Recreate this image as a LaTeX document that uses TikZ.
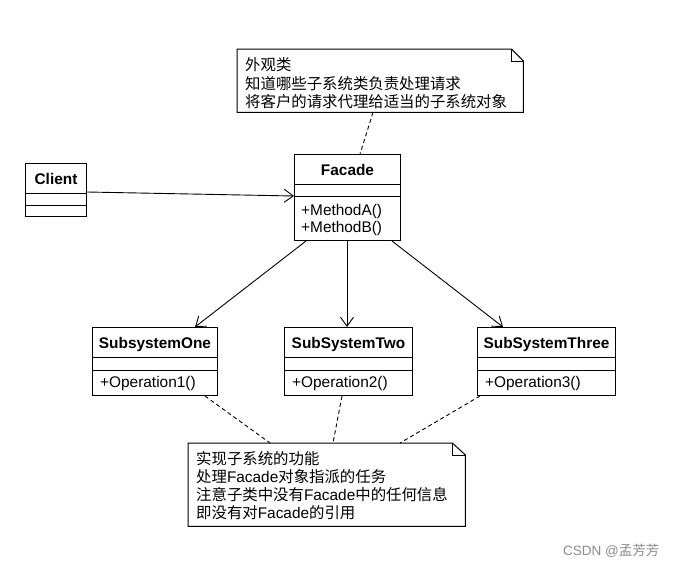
\documentclass[tikz,border=0pt]{standalone}
\usepackage{fontspec}
\setmainfont{Liberation Sans}
\newfontfamily\cjk{Noto Sans CJK SC}
\usetikzlibrary{calc,arrows.meta}
\begin{document}
\begin{tikzpicture}[x=1pt,y=-1pt,
  box/.style={draw, line width=1pt, inner sep=0pt, anchor=north west},
  divider/.style={line width=1pt},
  ttl/.style={font=\bfseries\fontsize{15.4}{18}\selectfont, inner sep=0pt, anchor=base},
  mth/.style={font=\fontsize{15.4}{18}\selectfont, inner sep=0pt, anchor=base west},
  assoc/.style={line width=0.9pt, -{Straight Barb[length=9pt,width=13pt,line width=0.9pt]}},
  link/.style={line width=0.9pt, dash pattern=on 4pt off 3pt},
  notebox/.style={inner sep=0pt, anchor=north west},
  noteline/.style={font=\fontsize{15.4}{18}\selectfont, inner sep=0pt, anchor=base west},
  wmtext/.style={font=\fontsize{13.5}{16}\selectfont, text=black!45, inner sep=0pt, anchor=base west}
]
\useasboundingbox[fill=white] (0,0) rectangle (678,570);

% ---------- notes ----------
\node[notebox, minimum width=286pt, minimum height=63pt] (topnote) at (237,49) {};
\draw[line width=1pt] (topnote.north west) -- ($(topnote.north east)+(-12,0)$) -- ($(topnote.north east)+(0,12)$) -- (topnote.south east) -- (topnote.south west) -- cycle;
\draw[line width=1pt] ($(topnote.north east)+(-12,0)$) -- ($(topnote.north east)+(-12,12)$) -- ($(topnote.north east)+(0,12)$);
\node[noteline] (tn1) at ($(topnote.north west)+(8,21.8)$) {\cjk 外观类};
\node[noteline] (tn2) at ($(topnote.north west)+(8,40.2)$) {\cjk 知道哪些子系统类负责处理请求};
\node[noteline] (tn3) at ($(topnote.north west)+(8,58.6)$) {\cjk 将客户的请求代理给适当的子系统对象};

\node[notebox, minimum width=277pt, minimum height=83pt] (botnote) at (188,443) {};
\draw[line width=1pt] (botnote.north west) -- ($(botnote.north east)+(-13,0)$) -- ($(botnote.north east)+(0,12)$) -- (botnote.south east) -- (botnote.south west) -- cycle;
\draw[line width=1pt] ($(botnote.north east)+(-13,0)$) -- ($(botnote.north east)+(-13,12)$) -- ($(botnote.north east)+(0,12)$);
\node[noteline] (bn1) at ($(botnote.north west)+(8,21)$) {\cjk 实现子系统的功能};
\node[noteline] (bn2) at ($(botnote.north west)+(8,39)$) {{\cjk 处理}Facade{\cjk 对象指派的任务}};
\node[noteline] (bn3) at ($(botnote.north west)+(8,57)$) {{\cjk 注意子类中没有}Facade{\cjk 中的任何信息}};
\node[noteline] (bn4) at ($(botnote.north west)+(8,75)$) {{\cjk 即没有对}Facade{\cjk 的引用}};

% ---------- classes ----------
\node[box, minimum width=61pt, minimum height=53pt] (client) at (25,163) {};
\draw[divider] ($(client.north west)+(0,30)$) -- ($(client.north east)+(0,30)$);
\draw[divider] ($(client.north west)+(0,42)$) -- ($(client.north east)+(0,42)$);
\node[ttl] (clientT) at ($(client.north)+(0,21.8)$) {Client};

\node[box, minimum width=106pt, minimum height=86pt] (facade) at (294,154) {};
\draw[divider] ($(facade.north west)+(0,30)$) -- ($(facade.north east)+(0,30)$);
\draw[divider] ($(facade.north west)+(0,42)$) -- ($(facade.north east)+(0,42)$);
\node[ttl] (facadeT) at ($(facade.north)+(0,21.5)$) {Facade};
\node[mth] (facadeM1) at ($(facade.north west)+(7,61.5)$) {+MethodA()};
\node[mth] (facadeM2) at ($(facade.north west)+(7,78.8)$) {+MethodB()};

\node[box, minimum width=125pt, minimum height=68pt] (sub1) at (92,327) {};
\draw[divider] ($(sub1.north west)+(0,30)$) -- ($(sub1.north east)+(0,30)$);
\draw[divider] ($(sub1.north west)+(0,43)$) -- ($(sub1.north east)+(0,43)$);
\node[ttl] (sub1T) at ($(sub1.north)+(0,21)$) {SubsystemOne};
\node[mth] (sub1M) at ($(sub1.north west)+(8,60.2)$) {+Operation1()};

\node[box, minimum width=128pt, minimum height=68pt] (sub2) at (284,327) {};
\draw[divider] ($(sub2.north west)+(0,30)$) -- ($(sub2.north east)+(0,30)$);
\draw[divider] ($(sub2.north west)+(0,43)$) -- ($(sub2.north east)+(0,43)$);
\node[ttl] (sub2T) at ($(sub2.north)+(0,21)$) {SubSystemTwo};
\node[mth] (sub2M) at ($(sub2.north west)+(8,60.2)$) {+Operation2()};

\node[box, minimum width=138pt, minimum height=68pt] (sub3) at (477,327) {};
\draw[divider] ($(sub3.north west)+(0,30)$) -- ($(sub3.north east)+(0,30)$);
\draw[divider] ($(sub3.north west)+(0,43)$) -- ($(sub3.north east)+(0,43)$);
\node[ttl] (sub3T) at ($(sub3.north)+(0,21)$) {SubSystemThree};
\node[mth] (sub3M) at ($(sub3.north west)+(8,60.2)$) {+Operation3()};

% ---------- connectors ----------
\draw[assoc] ($(client.north east)+(0,29)$) -- ($(facade.north west)+(0,42)$);
\draw[assoc] ($(facade.south west)+(12,0)$) -- ($(sub1.north west)+(103,0)$);
\draw[assoc] ($(facade.south west)+(53,0)$) -- ($(sub2.north west)+(63,0)$);
\draw[assoc] ($(facade.south west)+(98,0)$) -- ($(sub3.north west)+(26,0)$);

\draw[link] ($(topnote.south west)+(136,0)$) -- ($(facade.north west)+(66,0)$);
\draw[link] ($(sub1.south west)+(113,0)$) -- ($(botnote.north west)+(82,0)$);
\draw[link] ($(sub2.south west)+(58,0)$) -- ($(botnote.north west)+(145,0)$);
\draw[link] ($(sub3.south west)+(3,0)$) -- ($(botnote.north west)+(212,0)$);

% ---------- watermark ----------
\node[wmtext] (wm) at (563,555) {CSDN @{\cjk 孟芳芳}};
\end{tikzpicture}
\end{document}
